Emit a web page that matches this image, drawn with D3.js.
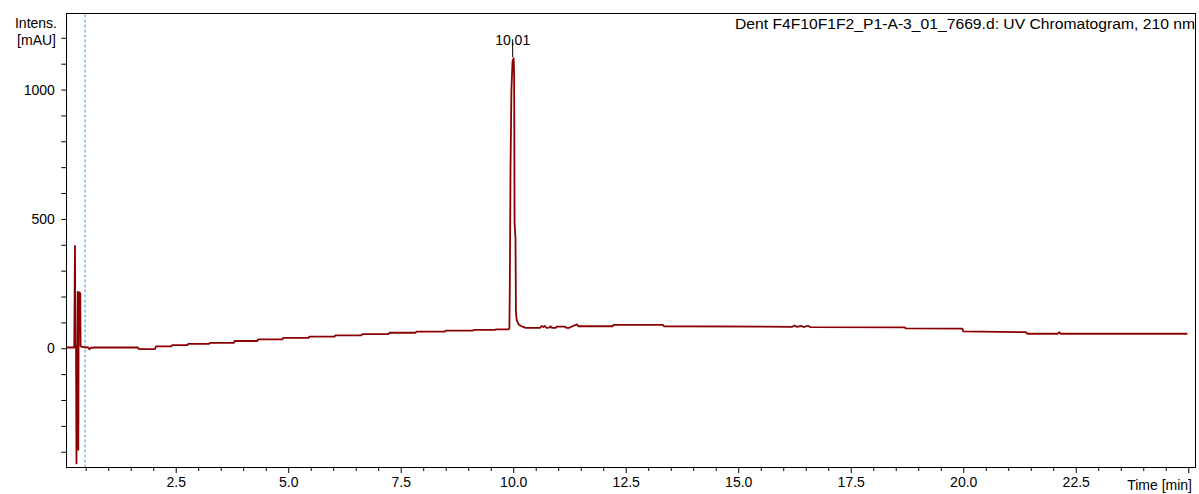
<!DOCTYPE html>
<html>
<head>
<meta charset="utf-8">
<script src="https://cdn.jsdelivr.net/npm/d3@7"></script>
<style>
  html, body { margin: 0; padding: 0; background: #fff; }
  svg { display: block; font-family: "Liberation Sans", Arial, sans-serif; }
</style>
</head>
<body>
<svg id="chart" width="1199" height="494"></svg>
<script>
// UV trace, 210 nm: retention time (min) and intensity (mAU)
const timeMin = [
  0.08, 0.22, 0.245, 0.262, 0.27, 0.285, 0.295, 0.305, 0.315, 0.322, 0.33, 0.336, 0.342,
  0.35, 0.36, 0.372, 0.38, 0.386, 0.42, 0.5, 0.55, 0.58, 0.62, 0.7,
  1.66, 1.68, 2.04, 2.06, 2.40, 2.42, 2.76, 2.78, 3.24, 3.26, 3.79, 3.81, 4.31, 4.33,
  4.87, 4.89, 5.45, 5.47, 6.03, 6.05, 6.63, 6.65, 7.23, 7.25, 7.83, 7.85, 8.48, 8.50,
  9.10, 9.12, 9.60, 9.62, 9.90,
  9.915, 9.925, 9.94, 9.96, 9.985, 10.01, 10.02, 10.025, 10.03, 10.05, 10.055, 10.06,
  10.07, 10.085, 10.10, 10.12, 10.14, 10.17, 10.22, 10.28,
  10.60, 10.63, 10.67, 10.70, 10.74, 10.80, 10.83, 10.86, 10.95, 10.97, 11.15, 11.18,
  11.25, 11.30, 11.42, 11.45, 12.21, 12.23, 13.33, 13.35,
  16.20, 16.25, 16.30, 16.40, 16.45, 16.55, 16.60, 18.70, 18.72,
  19.98, 20.00, 21.40, 21.42, 22.10, 22.13, 22.17, 24.98
];
const intensityMAU = [
  3, 3, 3, 396, 10, 5, -445, -60, 20, 218, 212, -392, 30,
  215, 216, 214, 212, 8, 5, 3, 4, -4, 2, 3,
  3, -3, -3, 7, 7, 12, 12, 17, 17, 21, 21, 28, 28, 34,
  34, 40, 40, 45, 45, 50, 50, 55, 55, 60, 60, 64, 64, 68,
  68, 71, 71, 73, 73,
  78, 250, 700, 1000, 1110, 1121, 1060, 800, 485, 425, 300, 141,
  120, 105, 100, 92, 90, 86, 83, 79,
  79, 86, 82, 86, 79, 80, 85, 79, 79, 84, 84, 79,
  79, 84, 92, 85, 85, 90, 90, 85,
  83, 88, 83, 86, 82, 87, 82, 81, 77,
  76, 65, 62, 56, 56, 62, 56, 56
];

// Axis ticks
const xMajorTicks = [2.5, 5.0, 7.5, 10.0, 12.5, 15.0, 17.5, 20.0, 22.5, 25.0];
const xTickLabels = ["2.5", "5.0", "7.5", "10.0", "12.5", "15.0", "17.5", "20.0", "22.5", ""];
const yMajorTicks = [0, 500, 1000];
const yTickLabels = ["0", "500", "1000"];

// Annotated peak and injection marker
const peakTimes = [10.01];
const peakLabels = ["10.01"];
const markerTimes = [0.485];

const titleText = "Dent F4F10F1F2_P1-A-3_01_7669.d: UV Chromatogram, 210 nm";

const svg = d3.select("#chart");
const plotL = 66.8, plotR = 1195.9, plotT = 13.5, plotB = 467;

const x = d3.scaleLinear().domain([0.08, 25.17]).range([plotL, plotR]);
const y = d3.scaleLinear().domain([-459, 1294]).range([plotB, plotT]);

const data = timeMin.map((t, i) => ({ t, v: intensityMAU[i] }));

// Frame
svg.append("rect")
  .attr("x", plotL).attr("y", plotT)
  .attr("width", plotR - plotL).attr("height", plotB - plotT)
  .attr("fill", "none").attr("stroke", "#000").attr("stroke-width", 1)
  .attr("shape-rendering", "crispEdges");

// Injection marker (dashed)
svg.selectAll("line.marker").data(markerTimes).join("line")
  .attr("class", "marker")
  .attr("x1", d => x(d)).attr("x2", d => x(d))
  .attr("y1", plotT + 1).attr("y2", plotB)
  .attr("stroke", "#62a8dc").attr("stroke-width", 1.2)
  .attr("stroke-dasharray", "3,2");

// X axis
const xMinor = d3.range(0.5, 25.01, 0.5).filter(v => !xMajorTicks.some(m => Math.abs(m - v) < 1e-6));
const xAxisG = svg.append("g").attr("transform", `translate(0,${plotB})`);
xAxisG.call(d3.axisBottom(x).tickValues(xMinor).tickSize(4).tickFormat(""))
  .call(g => g.select(".domain").remove());
const xMajorG = svg.append("g").attr("transform", `translate(0,${plotB})`);
xMajorG.call(d3.axisBottom(x).tickValues(xMajorTicks).tickSize(6)
    .tickFormat((d, i) => xTickLabels[i]))
  .call(g => g.select(".domain").remove());
svg.selectAll(".tick line").attr("stroke", "#000");
xMajorG.selectAll(".tick text")
  .attr("font-size", 14).attr("font-family", "Liberation Sans, Arial, sans-serif")
  .attr("fill", "#000").attr("y", 10).attr("dy", "0.71em");

// Y axis
const yMinor = d3.range(-400, 1201, 100).filter(v => !yMajorTicks.includes(v));
const yMinorG = svg.append("g").attr("transform", `translate(${plotL},0)`);
yMinorG.call(d3.axisLeft(y).tickValues(yMinor).tickSize(5.5).tickFormat(""))
  .call(g => g.select(".domain").remove());
const yMajorG = svg.append("g").attr("transform", `translate(${plotL},0)`);
yMajorG.call(d3.axisLeft(y).tickValues(yMajorTicks).tickSize(5.5)
    .tickFormat((d, i) => yTickLabels[i]))
  .call(g => g.select(".domain").remove());
svg.selectAll(".tick line").attr("stroke", "#000");
yMajorG.selectAll(".tick text")
  .attr("font-size", 14).attr("font-family", "Liberation Sans, Arial, sans-serif")
  .attr("fill", "#000").attr("x", -12);

// Axis titles
const yTitle = svg.append("text").attr("text-anchor", "end")
  .attr("font-size", 14).attr("fill", "#000");
yTitle.append("tspan").attr("x", 57).attr("y", 28).text("Intens.");
yTitle.append("tspan").attr("x", 56).attr("y", 45).text("[mAU]");

svg.append("text").attr("x", 1192).attr("y", 490)
  .attr("text-anchor", "end").attr("font-size", 14).attr("fill", "#000")
  .text("Time [min]");

// Chart title
svg.append("text").attr("x", 1195).attr("y", 29)
  .attr("text-anchor", "end").attr("font-size", 14).attr("fill", "#000")
  .attr("textLength", 460).attr("lengthAdjust", "spacingAndGlyphs")
  .text(titleText);

// Trace
const line = d3.line().x(d => x(d.t)).y(d => y(d.v)).curve(d3.curveLinear);
svg.append("path").datum(data)
  .attr("fill", "none").attr("stroke", "#8b0000")
  .attr("stroke-width", 1.8).attr("stroke-linejoin", "round")
  .attr("d", line);

// Peak annotation
const peakPts = peakTimes.map((t, i) => {
  let best = data[0];
  data.forEach(d => { if (Math.abs(d.t - t) < Math.abs(best.t - t)) best = d; });
  return { t, v: best.v, label: peakLabels[i] };
});
svg.selectAll("text.peak").data(peakPts).join("text")
  .attr("class", "peak")
  .attr("x", d => x(d.t) - 1).attr("y", d => y(d.v) - 13)
  .attr("text-anchor", "middle").attr("font-size", 14).attr("fill", "#000")
  .text(d => d.label);
svg.selectAll("line.peak").data(peakPts).join("line")
  .attr("class", "peak")
  .attr("x1", d => x(d.t) - 1).attr("x2", d => x(d.t) - 1)
  .attr("y1", d => y(d.v) - 1).attr("y2", d => y(d.v) - 19)
  .attr("stroke", "#000").attr("stroke-width", 1);
</script>
</body>
</html>
